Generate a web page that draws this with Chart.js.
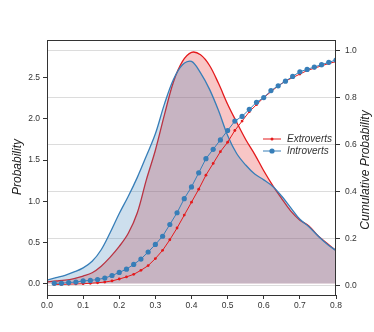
<!DOCTYPE html>
<html lang="en">
<head>
    <meta charset="utf-8">
    <title>Extroverts vs Introverts</title>
    <script src="https://cdn.jsdelivr.net/npm/chart.js"></script>
    <style>
        body {
            margin: 0;
            background: #fff;
        }

        #wrap {
            width: 374px;
            height: 332px;
        }
    </style>
</head>
<body>
    <div id="wrap">
        <canvas id="kdeChart" width="374" height="332"></canvas>
    </div>
    <script>
        // density curves (left axis)
        const kdeX = [0, 0.025, 0.05, 0.075, 0.1, 0.125, 0.15, 0.175, 0.2, 0.225, 0.25, 0.275, 0.3, 0.325, 0.35, 0.375, 0.4,
            0.425, 0.45, 0.475, 0.5, 0.525, 0.55, 0.575, 0.6, 0.625, 0.65, 0.675, 0.7, 0.725, 0.75, 0.775, 0.8];
        const extroKde = [0.02, 0.03, 0.04, 0.06, 0.09, 0.13, 0.21, 0.32, 0.45, 0.61, 0.86, 1.26, 1.62, 2.05, 2.45, 2.70, 2.81,
            2.78, 2.65, 2.43, 2.18, 1.96, 1.75, 1.57, 1.37, 1.19, 1.03, 0.88, 0.77, 0.70, 0.58, 0.49, 0.40];
        const introKde = [0.04, 0.07, 0.10, 0.14, 0.19, 0.27, 0.41, 0.62, 0.85, 1.06, 1.29, 1.55, 1.82, 2.18, 2.48, 2.66, 2.70,
            2.56, 2.36, 2.10, 1.80, 1.58, 1.44, 1.33, 1.26, 1.18, 1.06, 0.92, 0.78, 0.69, 0.58, 0.48, 0.40];

        // cumulative curves (right axis)
        const cdfX = [0.02, 0.04, 0.06, 0.08, 0.1, 0.12, 0.14, 0.16, 0.18, 0.2, 0.22, 0.24, 0.26, 0.28, 0.3, 0.32, 0.34, 0.36, 0.38, 0.4,
            0.42, 0.44, 0.46, 0.48, 0.5, 0.52, 0.54, 0.56, 0.58, 0.6, 0.62, 0.64, 0.66, 0.68, 0.7, 0.72, 0.74, 0.76, 0.78, 0.8];
        const extroCdf = [0.005, 0.005, 0.006, 0.007, 0.008, 0.010, 0.012, 0.015, 0.020, 0.028, 0.037, 0.048, 0.065, 0.085, 0.115, 0.15,
            0.195, 0.245, 0.30, 0.355, 0.41, 0.47, 0.52, 0.57, 0.61, 0.66, 0.70, 0.74, 0.77, 0.80, 0.825, 0.85, 0.87, 0.885, 0.90,
            0.915, 0.925, 0.935, 0.945, 0.953];
        const introCdf = [0.01, 0.01, 0.013, 0.015, 0.02, 0.022, 0.026, 0.032, 0.043, 0.056, 0.07, 0.09, 0.113, 0.143, 0.175, 0.21,
            0.26, 0.31, 0.37, 0.42, 0.48, 0.54, 0.58, 0.62, 0.66, 0.70, 0.72, 0.75, 0.78, 0.80, 0.83, 0.85, 0.87, 0.89, 0.91,
            0.92, 0.93, 0.94, 0.95, 0.96];

        // tick labels
        const xTicks = [0, 0.1, 0.2, 0.3, 0.4, 0.5, 0.6, 0.7, 0.8];
        const yTicks = [0, 0.5, 1, 1.5, 2, 2.5];
        const y1Ticks = [0, 0.2, 0.4, 0.6, 0.8, 1];

        const seriesNames = ['Extroverts', 'Introverts'];

        const RED = '#e41a1c';
        const BLUE = '#377eb8';
        const tickFont = { family: 'Liberation Sans, Arial, sans-serif', size: 8.5 };

        function pts(xs, ys) {
            return xs.map((x, i) => ({ x: x, y: ys[i] }));
        }

        function setTicks(list) {
            return function (scale) {
                scale.ticks = list.map(v => ({ value: v }));
            };
        }

        // frame, axis titles and the legend box inside the plot
        const decorations = {
            id: 'decorations',
            afterDraw(chart) {
                const ctx = chart.ctx;
                const a = chart.chartArea;
                ctx.save();
                ctx.strokeStyle = '#333';
                ctx.lineWidth = 1;
                ctx.strokeRect(Math.round(a.left) + 0.5, Math.round(a.top) + 0.5,
                    Math.round(a.right - a.left) - 1, Math.round(a.bottom - a.top));

                ctx.fillStyle = '#222';
                ctx.font = 'italic 12px Liberation Sans, Arial, sans-serif';
                ctx.textAlign = 'center';
                ctx.textBaseline = 'middle';
                ctx.translate(18, 167);
                ctx.rotate(-Math.PI / 2);
                ctx.fillText('Probability', 0, 0);
                ctx.setTransform(1, 0, 0, 1, 0, 0);
                ctx.translate(366, 170);
                ctx.rotate(-Math.PI / 2);
                ctx.fillText('Cumulative Probability', 0, 0);
                ctx.setTransform(1, 0, 0, 1, 0, 0);

                const items = [
                    { label: seriesNames[0], color: RED, r: 1.5, y: 139 },
                    { label: seriesNames[1], color: BLUE, r: 2.6, y: 151 }
                ];
                ctx.font = 'italic 10px Liberation Sans, Arial, sans-serif';
                ctx.textAlign = 'left';
                items.forEach(it => {
                    ctx.strokeStyle = it.color;
                    ctx.lineWidth = 1;
                    ctx.beginPath();
                    ctx.moveTo(263, it.y);
                    ctx.lineTo(281, it.y);
                    ctx.stroke();
                    ctx.fillStyle = it.color;
                    ctx.beginPath();
                    ctx.arc(272, it.y, it.r, 0, Math.PI * 2);
                    ctx.fill();
                    ctx.fillStyle = '#333';
                    ctx.fillText(it.label, 287, it.y + 0.5);
                });
                ctx.restore();
            }
        };

        new Chart(document.getElementById('kdeChart'), {
            type: 'line',
            data: {
                datasets: [{
                    label: seriesNames[1] + ' cdf',
                    data: pts(cdfX, introCdf),
                    yAxisID: 'y1',
                    borderColor: BLUE,
                    backgroundColor: BLUE,
                    borderWidth: 1,
                    pointRadius: 2.6,
                    pointBorderWidth: 0,
                    fill: false,
                    order: 0
                }, {
                    label: seriesNames[0] + ' cdf',
                    data: pts(cdfX, extroCdf),
                    yAxisID: 'y1',
                    borderColor: RED,
                    backgroundColor: RED,
                    borderWidth: 1,
                    pointRadius: 1.4,
                    pointBorderWidth: 0,
                    fill: false,
                    order: 1
                }, {
                    label: seriesNames[1],
                    data: pts(kdeX, introKde),
                    yAxisID: 'y',
                    borderColor: BLUE,
                    backgroundColor: 'rgba(55, 126, 184, 0.25)',
                    borderWidth: 1.3,
                    pointRadius: 0,
                    tension: 0.35,
                    fill: 'origin',
                    order: 2
                }, {
                    label: seriesNames[0],
                    data: pts(kdeX, extroKde),
                    yAxisID: 'y',
                    borderColor: RED,
                    backgroundColor: 'rgba(228, 26, 28, 0.25)',
                    borderWidth: 1.3,
                    pointRadius: 0,
                    tension: 0.35,
                    fill: 'origin',
                    order: 3
                }]
            },
            options: {
                responsive: false,
                animation: false,
                layout: { padding: { top: 40, left: 0, right: 0, bottom: 0 } },
                plugins: {
                    legend: { display: false },
                    tooltip: { enabled: false }
                },
                scales: {
                    x: {
                        type: 'linear',
                        min: 0,
                        max: 0.8,
                        afterBuildTicks: setTicks(xTicks),
                        afterFit: s => { s.height = 37; },
                        border: { display: false },
                        grid: { drawOnChartArea: false, tickLength: 4, tickColor: '#333' },
                        ticks: {
                            color: '#333',
                            font: tickFont,
                            padding: 2,
                            maxRotation: 0,
                            callback: v => v.toFixed(1)
                        }
                    },
                    y: {
                        position: 'left',
                        min: -0.14,
                        max: 2.96,
                        afterBuildTicks: setTicks(yTicks),
                        afterFit: s => { s.width = 47; },
                        border: { display: false },
                        grid: { drawOnChartArea: false, tickLength: 4, tickColor: '#333' },
                        ticks: {
                            color: '#333',
                            font: tickFont,
                            padding: 3,
                            callback: v => v.toFixed(1)
                        }
                    },
                    y1: {
                        position: 'right',
                        min: -0.04,
                        max: 1.045,
                        afterBuildTicks: setTicks(y1Ticks),
                        afterFit: s => { s.width = 38; },
                        border: { display: false },
                        grid: { color: '#dcdcdc', lineWidth: 1, tickLength: 4, tickColor: '#333' },
                        ticks: {
                            color: '#333',
                            font: tickFont,
                            padding: 5,
                            callback: v => v.toFixed(1)
                        }
                    }
                }
            },
            plugins: [decorations]
        });
    </script>
</body>
</html>
